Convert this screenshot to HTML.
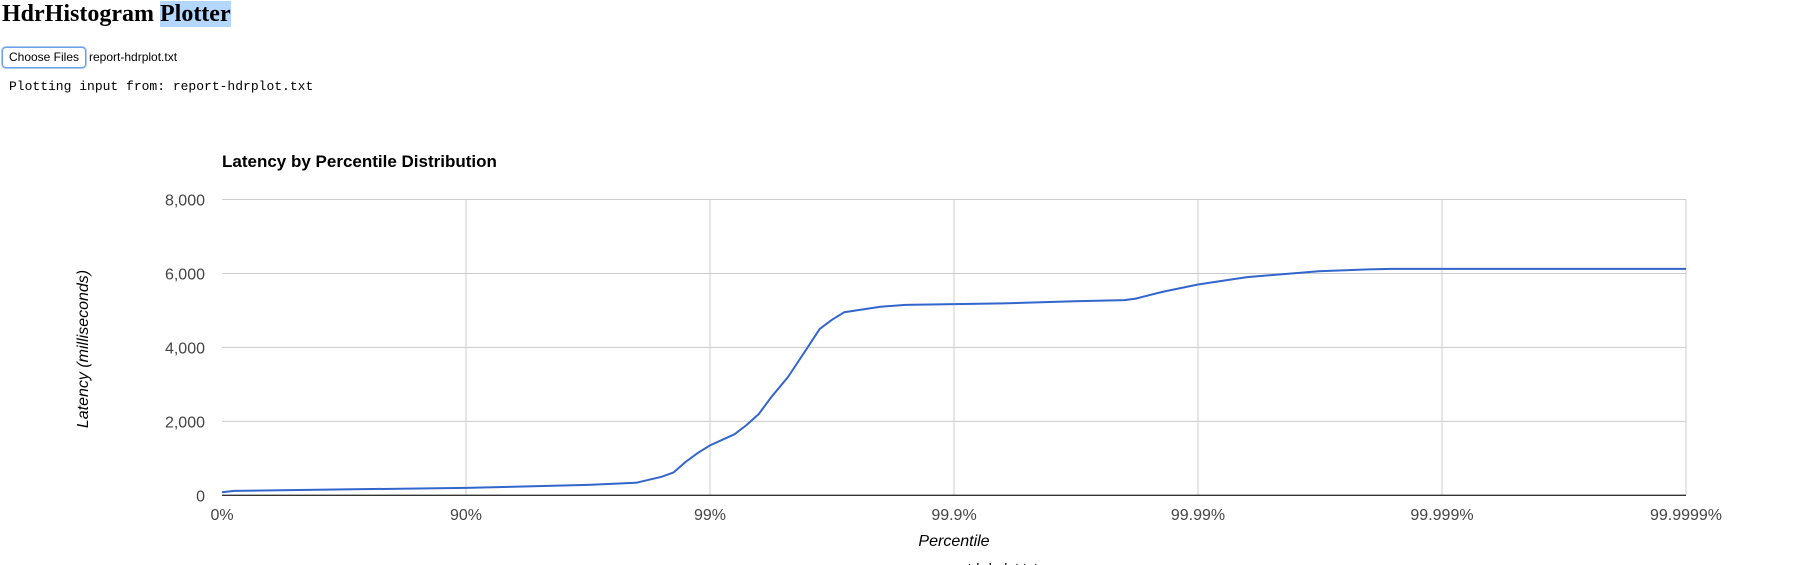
<!DOCTYPE html>
<html style="height:565px;overflow:hidden"><head><meta charset="utf-8">
<style>
body{margin:0;background:#fff;width:1793px;height:565px;overflow:hidden;position:relative;font-family:"Liberation Sans",sans-serif}
h1{position:absolute;left:2px;top:0;margin:0;font:bold 24px "Liberation Serif",serif;line-height:28px}
h1 span{background:#b3d7ff}
.btn{position:absolute;left:2px;top:47px;width:82px;height:19px;border:1.5px solid #6aa0e8;border-radius:4px;font-size:12px;line-height:19px;text-align:center;background:#fff;box-shadow:0 0 0 1px #aac8f0}
.fname{position:absolute;left:89px;top:50px;font-size:12px}
pre{position:absolute;left:9px;top:79px;margin:0;font:13px "Liberation Mono",monospace}
.footclip{position:absolute;left:935px;top:558px;width:200px;height:7px;overflow:hidden}
.foot{position:absolute;left:0;top:2px;font-size:14px;line-height:16px;white-space:nowrap}
</style></head><body>
<h1>HdrHistogram <span>Plotter</span></h1>
<div class="btn">Choose Files</div>
<div class="fname">report-hdrplot.txt</div>
<pre>Plotting input from: report-hdrplot.txt</pre>
<div class="footclip"><div class="foot">report-hdrplot.txt</div></div>
<svg id="chart" width="1793" height="565" style="position:absolute;left:0;top:0"></svg>
<script>
const percentiles=[0,10.9,68.4,90,96.84,98.0,98.42,98.59,98.74,98.88,99,99.206,99.292,99.369,99.438,99.521,99.602,99.645,99.684,99.718,99.8,99.842,99.9,99.937,99.968,99.98,99.982,99.986,99.99,99.9937,99.9968,99.998,99.9984,99.9999];
const latencies=[80,120,160,200,280,340,500,620,900,1150,1350,1650,1900,2200,2650,3200,4000,4500,4750,4950,5100,5150,5170,5190,5250,5280,5320,5500,5700,5900,6060,6110,6124,6124];
const yTicks=[0,2000,4000,6000,8000];
const xTickLabels=["0%","90%","99%","99.9%","99.99%","99.999%","99.9999%"];
const svg=document.getElementById('chart');const NS='http://www.w3.org/2000/svg';
const L=222,R=1686,T=199.5,B=495.3,YMAX=8000,DEC=6;
const xs=p=>{const d=p>=100?DEC:-Math.log10(1-p/100);return L+(R-L)*Math.min(d,DEC)/DEC;};
const ys=v=>B-(B-T)*v/YMAX;
function mk(t,a,txt){const e=document.createElementNS(NS,t);for(const k in a)e.setAttribute(k,a[k]);if(txt!=null)e.textContent=txt;svg.appendChild(e);return e;}
let e=mk('text',{x:222,y:167,'font-size':'17','font-weight':'bold'},'Latency by Percentile Distribution');


yTicks.forEach(v=>{
 if(v>0){const g=mk('line',{x1:L,x2:R,y1:ys(v),y2:ys(v),stroke:'#ccc','stroke-width':1});
 
 }
 const t=mk('text',{x:205,y:ys(v)+6,'font-size':'16','text-anchor':'end',fill:'#444'},v.toLocaleString('en-US'));
 
 
});
xTickLabels.forEach((s,i)=>{
 const x=L+(R-L)*i/DEC;
 if(i>0){const g=mk('line',{x1:x,x2:x,y1:T,y2:B,stroke:'#ccc','stroke-width':1});
 
 }
 const t=mk('text',{x:x,y:520,'font-size':'16','text-anchor':'middle',fill:'#444'},s);
 
 
});
const ax=mk('line',{x1:L,x2:R,y1:B,y2:B,stroke:'#333','stroke-width':1.3});


const pts=percentiles.map((p,i)=>xs(p).toFixed(1)+','+ys(latencies[i]).toFixed(1)).join(' ');
const ln=mk('polyline',{points:pts,fill:'none',stroke:'#3366cc','stroke-width':2,'stroke-linejoin':'round'});


const xt=mk('text',{x:954,y:546,'font-size':'16','font-style':'italic','text-anchor':'middle'},'Percentile');


const yt=mk('text',{x:0,y:0,'font-size':'16','font-style':'italic','text-anchor':'middle',transform:'translate(88,349) rotate(-90)'},'Latency (milliseconds)');


</script>
</body></html>
